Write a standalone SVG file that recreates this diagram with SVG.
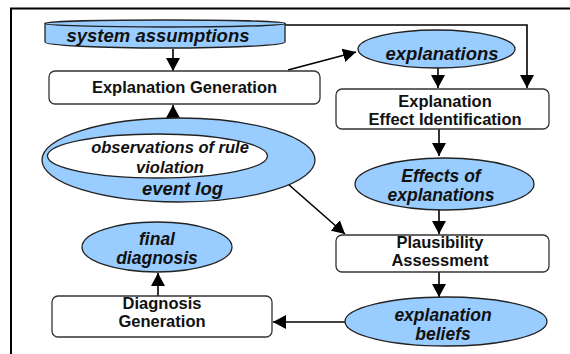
<svg xmlns="http://www.w3.org/2000/svg" width="570" height="354" viewBox="0 0 570 354">
<defs>
<style>
.box{fill:#fff;stroke:#333;stroke-width:1.3}
.ell{fill:#99ccff;stroke:#222;stroke-width:1.3}
.lbl{font-family:"Liberation Sans",Arial,sans-serif;font-weight:bold;font-size:16.5px;fill:#111;text-anchor:middle}
.it{font-family:"Liberation Sans",Arial,sans-serif;font-weight:bold;font-style:italic;font-size:18.5px;fill:#111;text-anchor:middle}
.it2{font-family:"Liberation Sans",Arial,sans-serif;font-weight:bold;font-style:italic;font-size:17.5px;fill:#111;text-anchor:middle}
.con{fill:none;stroke:#000;stroke-width:1.6;marker-end:url(#ah)}
</style>
<marker id="ah" markerUnits="userSpaceOnUse" markerWidth="14" markerHeight="14" viewBox="0 0 14 14" refX="13" refY="7" orient="auto">
<path d="M0,0 L13,7 L0,14 Z" fill="#000"/>
</marker>
</defs>
<rect width="570" height="354" fill="#fff"/>
<g id="frame" fill="none" stroke="#000" stroke-width="2">
<path d="M11,354 V8.5 H570"/>
</g>
<g id="connectors">
<path class="con" d="M173,49 V71"/>
<path class="con" d="M173,134 V105"/>
<path class="con" d="M288,70 L356,52"/>
<path class="con" d="M285,25 H527 V88"/>
<path class="con" d="M438,68 V88"/>
<path class="con" d="M439,129 V156"/>
<path class="con" d="M439,210 V234"/>
<path class="con" d="M288,184 L345,234"/>
<path class="con" d="M439,272 V297"/>
<path class="con" d="M345,322 H273"/>
<path class="con" d="M158,296 V273"/>
</g>
<g id="system-assumptions">
<path class="ell" d="M45,23.5 V42 A120,6 0 0 0 285,42 V23.5 Z"/>
<ellipse class="ell" cx="165" cy="23.5" rx="120" ry="3.5"/>
<text class="it" x="158" y="42">system assumptions</text>
</g>
<g id="explanation-generation">
<rect class="box" x="49" y="71" width="271" height="33" rx="6"/>
<text class="lbl" x="184.5" y="93">Explanation Generation</text>
</g>
<g id="explanations">
<ellipse class="ell" cx="436.5" cy="49" rx="78.5" ry="19"/>
<text class="it" x="442" y="60">explanations</text>
</g>
<g id="explanation-effect-identification">
<rect class="box" x="336" y="89" width="213" height="40" rx="6"/>
<text class="lbl" x="445" y="107">Explanation</text>
<text class="lbl" x="445" y="125">Effect Identification</text>
</g>
<g id="event-log">
<ellipse class="ell" cx="178.5" cy="160" rx="136.5" ry="42"/>
<ellipse cx="157.5" cy="156" rx="110" ry="22" fill="#fff" stroke="#222" stroke-width="1.3"/>
<text class="it" x="170" y="153" style="font-size:16.5px">observations of rule</text>
<text class="it" x="170" y="173" style="font-size:16.5px">violation</text>
<text class="it" x="182.5" y="195">event log</text>
</g>
<g id="effects-of-explanations">
<ellipse class="ell" cx="444.5" cy="184" rx="89.5" ry="26"/>
<text class="it2" x="441" y="182">Effects of</text>
<text class="it2" x="441" y="201">explanations</text>
</g>
<g id="plausibility-assessment">
<rect class="box" x="336" y="235" width="213" height="37" rx="6"/>
<text class="lbl" x="440" y="248">Plausibility</text>
<text class="lbl" x="440" y="266">Assessment</text>
</g>
<g id="explanation-beliefs">
<ellipse class="ell" cx="446" cy="321.5" rx="101" ry="24.5"/>
<text class="it2" x="443" y="321">explanation</text>
<text class="it2" x="443" y="340">beliefs</text>
</g>
<g id="diagnosis-generation">
<rect class="box" x="52" y="296" width="220" height="41" rx="6"/>
<text class="lbl" x="162" y="309">Diagnosis</text>
<text class="lbl" x="162" y="327">Generation</text>
</g>
<g id="final-diagnosis">
<ellipse class="ell" cx="157" cy="247" rx="75" ry="25"/>
<text class="it2" x="157" y="245">final</text>
<text class="it2" x="157" y="264">diagnosis</text>
</g>
</svg>
